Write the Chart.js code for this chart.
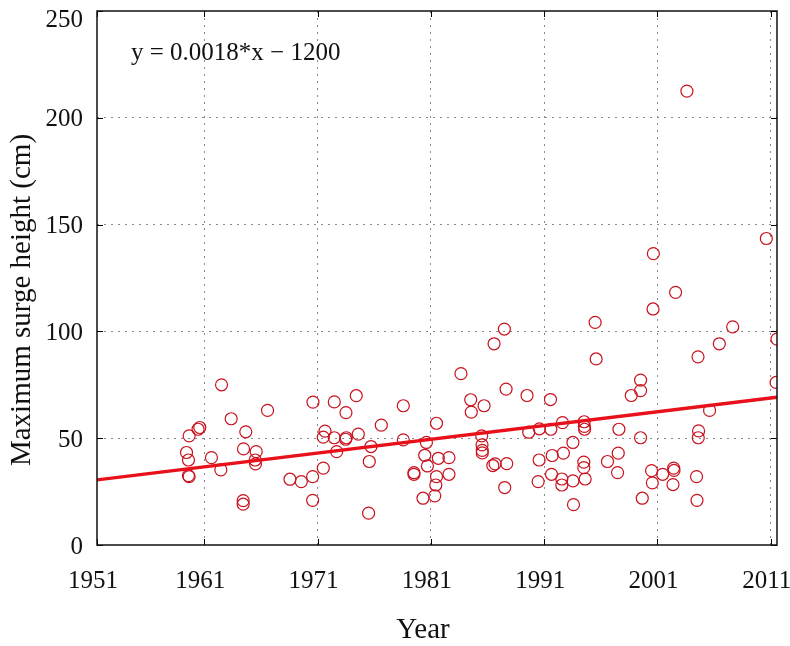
<!DOCTYPE html>
<html>
<head>
<meta charset="utf-8">
<script src="https://cdn.jsdelivr.net/npm/chart.js@4/dist/chart.umd.min.js"></script>
<style>
html,body{margin:0;padding:0;background:#fff;}
#wrap{width:790px;height:646px;position:relative;}
</style>
</head>
<body>
<div id="wrap"><canvas id="c" width="790" height="646"></canvas></div>
<script>
// ---- data ----
const years = [
 1959.67,1959.44,1959.61,1959.61,1959.67,1960.46,1960.61,1961.64,1962.53,1962.47,
 1963.38,1964.47,1964.67,1964.44,1964.44,1965.59,1965.50,1965.53,1966.59,1968.57,
 1969.57,1970.57,1970.57,1970.60,1971.51,1971.66,1971.51,1972.48,1972.48,1972.69,
 1973.51,1973.48,1973.54,1974.42,1974.60,1975.72,1975.57,1975.51,1976.63,1978.57,
 1978.57,1979.51,1979.51,1980.31,1980.61,1980.46,1980.70,1981.50,1981.50,1981.44,
 1981.35,1981.66,1982.60,1982.60,1983.66,1984.52,1984.57,1985.70,1985.49,1985.52,
 1985.54,1985.54,1986.58,1986.47,1986.67,1987.49,1987.64,1987.70,1987.52,1989.49,
 1989.64,1990.58,1990.56,1990.47,1991.56,1991.59,1991.71,1991.65,1992.62,1992.70,
 1992.56,1992.56,1993.54,1993.54,1993.59,1994.53,1994.55,1994.57,1994.50,1994.50,
 1994.62,1995.50,1995.59,1996.59,1997.60,1997.54,1997.48,1998.69,1999.51,1999.51,
 1999.51,1999.66,2000.61,2000.64,2000.48,2000.55,2001.46,2002.43,2002.46,2002.37,
 2002.60,2003.60,2004.45,2004.49,2004.63,2004.60,2004.58,2005.60,2006.46,2007.64,
 2010.61,2011.55,2011.47
];
const surgeHeights = [
 51.1,43.3,39.8,32.5,32.0,54.2,55.0,40.9,75.0,35.2,
 59.1,45.0,53.0,20.8,19.1,43.7,39.8,38.0,63.0,30.8,
 29.7,32.0,20.9,66.9,36.0,53.3,50.5,67.0,50.2,43.7,
 62.0,49.5,50.2,69.9,51.9,46.1,39.1,14.9,56.1,65.2,
 49.2,33.9,33.1,21.9,48.0,42.0,37.0,57.0,32.0,28.1,
 23.0,40.6,40.9,33.1,80.2,68.0,62.2,65.2,51.1,46.9,
 44.3,43.1,94.2,37.2,38.0,101.1,73.0,38.1,26.9,70.0,
 52.8,54.4,39.8,29.7,68.1,54.2,41.9,33.1,57.3,43.0,
 30.9,28.1,48.0,30.0,18.9,57.7,55.5,54.2,38.8,36.2,
 30.9,104.2,87.1,39.1,54.2,43.0,33.9,70.0,77.2,72.3,
 50.2,21.9,110.5,136.4,34.8,29.1,33.1,36.0,34.9,28.3,
 118.3,212.5,32.0,20.9,53.4,50.2,88.1,63.0,94.2,102.1,
 143.5,96.4,76.1
];
const trendYears = [1951.54, 2011.55];
const trendValues = [30.5, 69.2];
const xTickYears = [1951.54, 1961, 1971, 1981, 1991, 2001, 2011];
const xTickLabels = ['1951','1961','1971','1981','1991','2001','2011'];
const yTickValues = [0, 50, 100, 150, 200, 250];
const equationText = 'y = 0.0018*x \u2212 1200';
const xTitle = 'Year';
const yTitle = 'Maximum surge height (cm)';

// ---- styles ----
const FONT = '"Liberation Serif", "Times New Roman", serif';
const RED = '#e8101a';
const CIRCLE = '#c8121e';

const scatterPts = years.map((x, i) => ({x: x, y: surgeHeights[i]}));
const trendPts = trendYears.map((x, i) => ({x: x, y: trendValues[i]}));

const frame = {
  id: 'frame',
  afterDraw(chart) {
    const {ctx, chartArea: a, scales: {x, y}} = chart;
    ctx.save();
    // inner tick marks
    ctx.strokeStyle = '#000';
    ctx.lineWidth = 1;
    ctx.beginPath();
    xTickYears.forEach(v => {
      const px = Math.round(x.getPixelForValue(v)) + 0.5;
      ctx.moveTo(px, a.bottom); ctx.lineTo(px, a.bottom - 6);
      ctx.moveTo(px, a.top); ctx.lineTo(px, a.top + 6);
    });
    yTickValues.forEach(v => {
      const py = Math.round(y.getPixelForValue(v)) + 0.5;
      ctx.moveTo(a.left, py); ctx.lineTo(a.left + 6, py);
      ctx.moveTo(a.right, py); ctx.lineTo(a.right - 6, py);
    });
    ctx.stroke();
    // box
    ctx.lineWidth = 1.5;
    ctx.strokeStyle = '#111';
    ctx.strokeRect(a.left, a.top, a.right - a.left, a.bottom - a.top);
    // y tick labels (kept inside the figure at the top, as in the reference)
    ctx.fillStyle = '#111';
    ctx.font = '25px ' + FONT;
    ctx.textAlign = 'right';
    ctx.textBaseline = 'middle';
    yTickValues.forEach(v => {
      const py = Math.max(y.getPixelForValue(v) + 2, 20);
      ctx.fillText(String(v), a.left - 14, py);
    });
    // equation
    ctx.textAlign = 'left';
    ctx.textBaseline = 'alphabetic';
    ctx.fillText(equationText, a.left + 34, a.top + 49);
    // titles
    ctx.font = '29px ' + FONT;
    ctx.textAlign = 'center';
    ctx.fillText(xTitle, 423, 638);
    ctx.save();
    ctx.translate(30, 300);
    ctx.rotate(-Math.PI / 2);
    ctx.fillText(yTitle, 0, 0);
    ctx.restore();
    ctx.restore();
  }
};

new Chart(document.getElementById('c'), {
  data: {
    datasets: [
      {
        type: 'line',
        data: trendPts,
        borderColor: RED,
        borderWidth: 3.4,
        pointRadius: 0,
        fill: false,
        order: 0
      },
      {
        type: 'scatter',
        data: scatterPts,
        pointStyle: 'circle',
        pointRadius: 6,
        pointBorderWidth: 1.2,
        pointBorderColor: CIRCLE,
        pointBackgroundColor: 'rgba(0,0,0,0)',
        order: 1
      }
    ]
  },
  options: {
    responsive: false,
    animation: false,
    devicePixelRatio: 1,
    layout: {padding: {left: 0, right: 13, top: 11, bottom: 0}},
    plugins: {legend: {display: false}, tooltip: {enabled: false}},
    scales: {
      x: {
        type: 'linear',
        min: 1951.54,
        max: 2011.55,
        afterBuildTicks(scale) { scale.ticks = xTickYears.map(v => ({value: v})); },
        afterFit(scale) {
          scale.height = 101;
          scale.paddingLeft = 0; scale.paddingRight = 0;
        },
        ticks: {
          autoSkip: false,
          maxRotation: 0,
          padding: 21,
          labelOffset: -4,
          color: '#111',
          font: {family: FONT, size: 25},
          callback: (v, i) => xTickLabels[i]
        },
        grid: {
          drawTicks: false,
          color: (c) => (c.tick && c.tick.value > 1952) ? '#8a8a8a' : 'rgba(0,0,0,0)',
          lineWidth: 1
        },
        border: {display: false, dash: [2, 5]}
      },
      y: {
        type: 'linear',
        min: 0,
        max: 250,
        afterBuildTicks(scale) { scale.ticks = yTickValues.map(v => ({value: v})); },
        afterFit(scale) {
          scale.width = 97;
          scale.paddingTop = 0; scale.paddingBottom = 0;
        },
        ticks: {
          display: false
        },
        grid: {
          drawTicks: false,
          color: (c) => (c.tick && c.tick.value > 0 && c.tick.value < 250) ? '#8a8a8a' : 'rgba(0,0,0,0)',
          lineWidth: 1
        },
        border: {display: false, dash: [2, 5]}
      }
    }
  },
  plugins: [frame]
});
</script>
</body>
</html>
